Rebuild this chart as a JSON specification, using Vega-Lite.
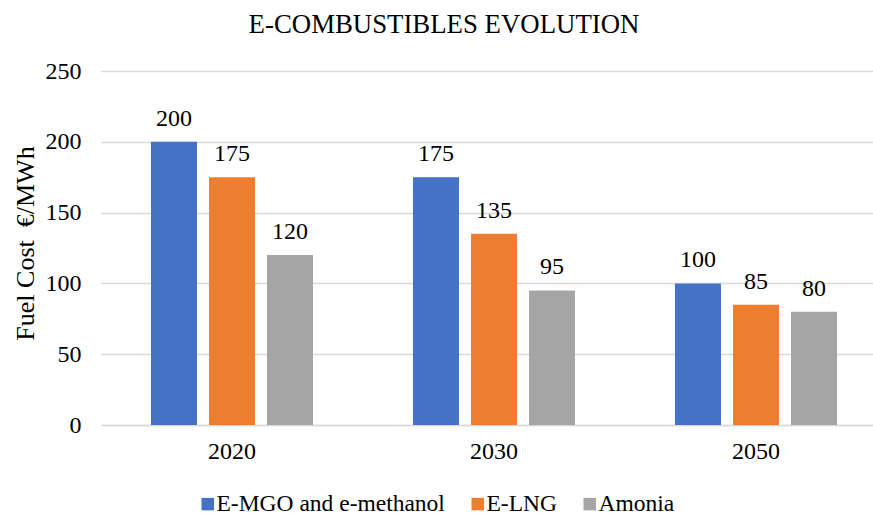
{
  "$schema": "https://vega.github.io/schema/vega-lite/v6.json",
  "width": 772,
  "height": 354,
  "autosize": {"type": "none"},
  "padding": {"left": 101, "top": 71, "right": 0, "bottom": 90},
  "background": "white",
  "title": {
    "text": "E-COMBUSTIBLES EVOLUTION",
    "font": "Liberation Serif",
    "fontSize": 26.8,
    "fontWeight": "normal",
    "color": "black",
    "anchor": "middle",
    "offset": 20,
    "dx": -43
  },
  "data": {
    "values": [
      {"year": "2020", "fuel": "E-MGO and e-methanol", "cost": 200},
      {"year": "2020", "fuel": "E-LNG", "cost": 175},
      {"year": "2020", "fuel": "Amonia", "cost": 120},
      {"year": "2030", "fuel": "E-MGO and e-methanol", "cost": 175},
      {"year": "2030", "fuel": "E-LNG", "cost": 135},
      {"year": "2030", "fuel": "Amonia", "cost": 95},
      {"year": "2050", "fuel": "E-MGO and e-methanol", "cost": 100},
      {"year": "2050", "fuel": "E-LNG", "cost": 85},
      {"year": "2050", "fuel": "Amonia", "cost": 80}
    ]
  },
  "config": {
    "view": {"stroke": null},
    "font": "Liberation Serif"
  },
  "encoding": {
    "x": {
      "field": "year",
      "type": "nominal",
      "scale": {"paddingInner": 0.2, "paddingOuter": 0.0733, "align": 0.682, "round": false},
      "axis": {
        "title": null,
        "labelAngle": 0,
        "labelFont": "Liberation Serif",
        "labelFontSize": 24,
        "labelColor": "black",
        "labelPadding": 14,
        "ticks": false,
        "domainColor": "#D9D9D9",
        "domainWidth": 1.5,
        "grid": false
      }
    },
    "xOffset": {
      "field": "fuel",
      "type": "nominal",
      "scale": {"domain": ["E-MGO and e-methanol", "E-LNG", "Amonia"], "paddingInner": 0.207, "paddingOuter": 0.41, "round": false}
    },
    "y": {
      "field": "cost",
      "type": "quantitative",
      "scale": {"domain": [0, 250], "nice": false},
      "axis": {
        "values": [0, 50, 100, 150, 200, 250],
        "title": "Fuel Cost \u00a0€/MWh",
        "titleFont": "Liberation Serif",
        "titleFontSize": 26,
        "titleFontWeight": "normal",
        "titleColor": "black",
        "titleX": -76,
        "titleY": 172,
        "titleAngle": -90,
        "titleBaseline": "middle",
        "titleAlign": "center",
        "labelFont": "Liberation Serif",
        "labelFontSize": 24,
        "labelColor": "black",
        "labelPadding": 20,
        "ticks": false,
        "domain": false,
        "gridColor": "#D9D9D9",
        "gridWidth": 1.5
      }
    }
  },
  "layer": [
    {
      "mark": {"type": "bar"},
      "encoding": {
        "color": {
          "field": "fuel",
          "type": "nominal",
          "scale": {"domain": ["E-MGO and e-methanol", "E-LNG", "Amonia"], "range": ["#4472C4", "#ED7D31", "#A5A5A5"]},
          "legend": {
            "title": null,
            "orient": "none",
            "direction": "horizontal",
            "legendX": 95,
            "legendY": 421,
            "symbolType": "square",
            "symbolSize": 156,
            "symbolStrokeWidth": 0,
            "labelFont": "Liberation Serif",
            "labelFontSize": 23.5,
            "labelColor": "black",
            "labelOffset": -3,
            "columnPadding": 21,
            "labelLimit": 400
          }
        }
      }
    },
    {
      "mark": {"type": "text", "baseline": "alphabetic", "dy": -16, "font": "Liberation Serif", "fontSize": 24, "color": "black"},
      "encoding": {
        "text": {"field": "cost", "type": "quantitative"}
      }
    }
  ]
}
